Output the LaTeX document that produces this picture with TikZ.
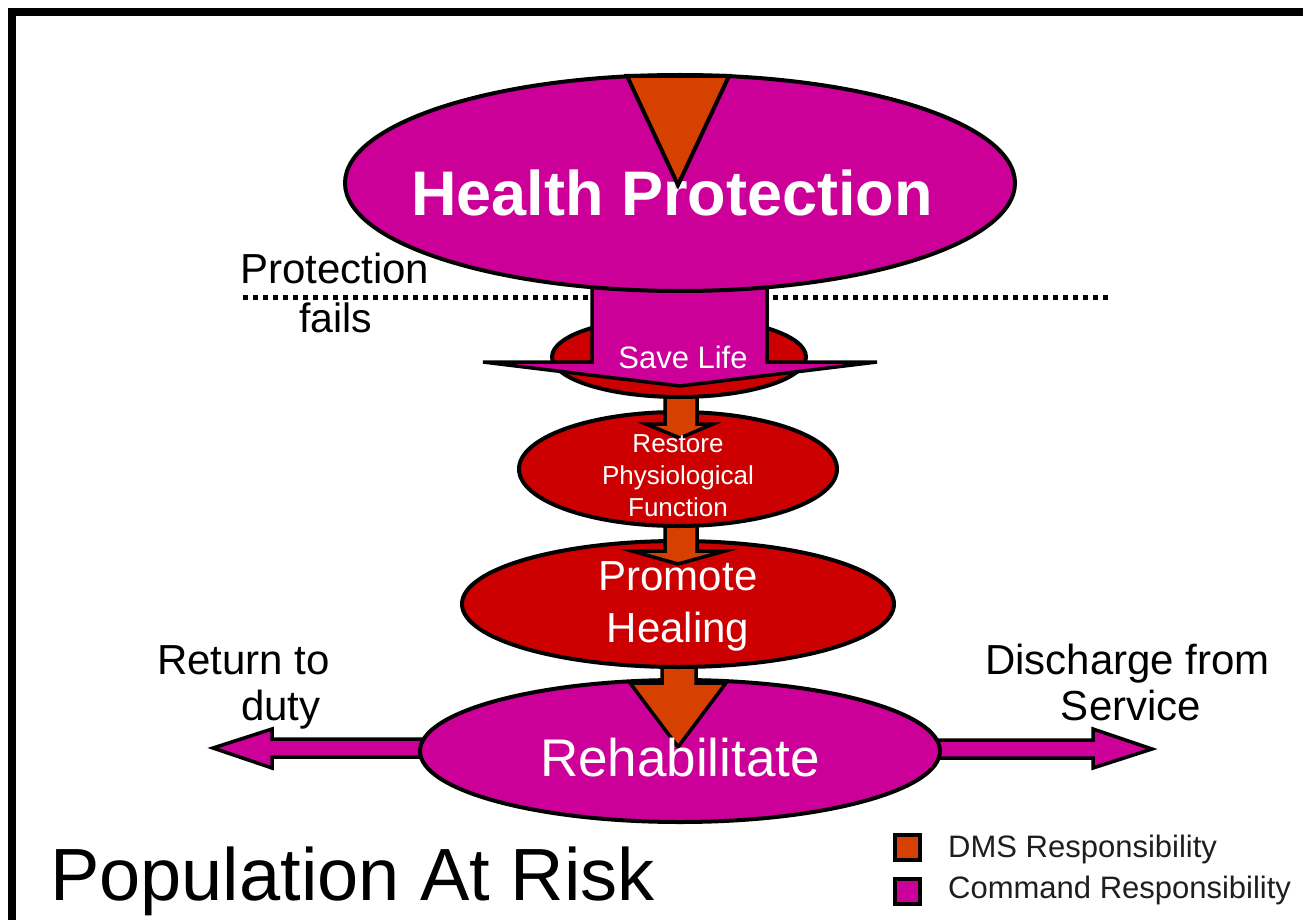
\documentclass[tikz,border=0pt]{standalone}
\usepackage{fontspec}
\setmainfont{Liberation Sans}
\usetikzlibrary{shapes.geometric}
\definecolor{cmd}{RGB}{204,0,153}
\definecolor{dms}{RGB}{214,64,0}
\definecolor{careRed}{RGB}{204,0,0}
\definecolor{legText}{RGB}{30,30,30}
\newcommand{\fsz}[1]{\fontsize{#1}{#1}\selectfont}
\begin{document}
\begin{tikzpicture}[x=1pt,y=-1pt,
  oval/.style={ellipse, draw=black, line width=4pt, inner sep=0pt},
  cmdoval/.style={oval, fill=cmd},
  redoval/.style={oval, fill=careRed},
  cmdarrow/.style={fill=cmd, draw=black, line width=3.5pt, line join=miter},
  dmsarrow/.style={fill=dms, draw=black, line width=3.5pt, line join=miter},
  lbl/.style={inner sep=0pt, anchor=base},
  lblw/.style={inner sep=0pt, anchor=base west},
  wtext/.style={text=white},
  legbox/.style={draw=black, line width=4pt, minimum size=25pt, inner sep=0pt}]
\useasboundingbox (0,0) rectangle (1303,920);
% frame
\draw[line width=8pt] (12,920) -- (12,12) -- (1303,12);
% protection fails line
\draw[line width=5pt, dash pattern=on 5pt off 5pt] (243,297) -- (1110,297);
% side arrows
\filldraw[cmdarrow] (440,739) -- (272,739) -- (272,729) -- (213,748) -- (272,768) -- (272,757) -- (440,757);
\filldraw[cmdarrow] (920,740) -- (1093,740) -- (1093,729) -- (1152,749) -- (1093,768) -- (1093,758) -- (920,758);
% rehabilitate
\node[cmdoval, minimum width=520pt, minimum height=142pt] (rehab) at (680,751) {};
\filldraw[dmsarrow] (662,650) -- (662,683) -- (630,683) -- (678,747) -- (726,683) -- (696,683) -- (696,650);
% promote healing
\node[redoval, minimum width=432pt, minimum height=126pt] (promote) at (678,604) {};
\filldraw[dmsarrow] (665,515) -- (665,551) -- (632,551) -- (678,564) -- (725,551) -- (697,551) -- (697,515);
% restore
\node[redoval, minimum width=318pt, minimum height=114pt] (restore) at (678,469) {};
\filldraw[dmsarrow] (665,385) -- (665,424) -- (646,424) -- (680,438) -- (713,424) -- (697,424) -- (697,385);
% save life
\node[redoval, minimum width=254pt, minimum height=80pt] (savelife) at (679,357) {};
\filldraw[cmdarrow] (592,270) -- (592,362) -- (483,362) -- (680,386) -- (877,362) -- (767,362) -- (767,270);
% health protection
\node[cmdoval, minimum width=670pt, minimum height=216pt] (health) at (680,183) {};
% texts
\node[lbl, wtext, font=\bfseries\fsz{63}] (hpText) at (672,215) {Health Protection};
\node[lbl, wtext, font=\fsz{31}] (slText) at (683,368) {Save Life};
\node[lbl, wtext, font=\fsz{26}] (rsText1) at (678,452) {Restore};
\node[lbl, wtext, font=\fsz{26}] (rsText2) at (678,484) {Physiological};
\node[lbl, wtext, font=\fsz{26}] (rsText3) at (678,516) {Function};
\node[lbl, wtext, font=\fsz{42}] (phText1) at (678,590) {Promote};
\node[lbl, wtext, font=\fsz{42}] (phText2) at (678,642) {Healing};
\node[lbl, wtext, font=\fsz{53}] (rhText) at (680,776) {Rehabilitate};
\node[lblw, font=\fsz{42}] (pfText1) at (240,283) {Protection};
\node[lblw, font=\fsz{41}] (pfText2) at (299,332) {fails};
\node[lblw, font=\fsz{42}] (rtText1) at (157,674) {Return to};
\node[lblw, font=\fsz{42}] (rtText2) at (241,720) {duty};
\node[lblw, font=\fsz{42}] (dsText1) at (985,674) {Discharge from};
\node[lbl, font=\fsz{42}] (dsText2) at (1131,720) {Service};
\node[lblw, font=\fsz{74}] (parText) at (50,900) {Population At Risk};
% triangle on top
\filldraw[fill=dms, draw=black, line width=4pt, line join=miter] (627,76) -- (729,76) -- (678,185) -- cycle;
% legend
\node[legbox, fill=dms] (legDms) at (907.5,847.5) {};
\node[legbox, fill=cmd] (legCmd) at (907.5,891.5) {};
\node[lblw, text=legText, font=\fsz{31}] (legDmsText) at (948,857) {DMS Responsibility};
\node[lblw, text=legText, font=\fsz{31}] (legCmdText) at (948,898) {Command Responsibility};
\end{tikzpicture}
\end{document}
